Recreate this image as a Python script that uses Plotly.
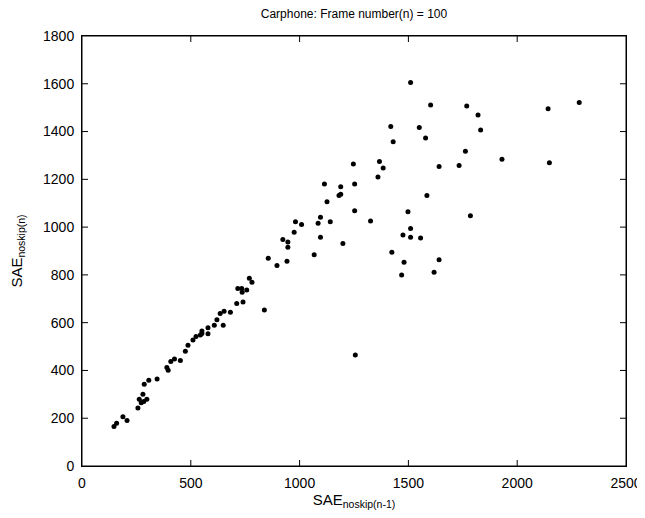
import plotly.graph_objects as go

x_vals = [147, 159, 188, 207, 257, 263, 280, 272, 284, 298, 286, 307, 345, 390, 396, 408, 425, 452,
          475, 487, 510, 524, 544, 551, 551, 579, 579, 608, 620, 635, 649, 653, 682, 711, 716, 734,
          736, 740, 757, 769, 781, 838, 856, 896,
          923, 946, 946, 942, 975, 981, 1009, 1067, 1085, 1096, 1096, 1114, 1126, 1141, 1181, 1189,
          1189, 1199, 1247, 1253, 1253, 1256, 1326, 1360, 1367, 1384, 1419, 1430, 1424, 1469, 1475,
          1480, 1498, 1510, 1510, 1550, 1556, 1579, 1585, 1618, 1641, 1641,
          1510, 1602, 1768, 1820, 1832, 1762, 1733, 1930, 2142, 2285, 2148, 1785]
y_vals = [165, 179, 206, 190, 243, 279, 300, 265, 270, 279, 342, 359, 364, 412, 401, 437, 448, 442,
          480, 505, 527, 542, 548, 565, 555, 579, 554, 589, 612, 638, 589, 648, 644, 680, 743, 743,
          727, 686, 737, 786, 769, 653, 870, 839,
          948, 938, 916, 857, 979, 1022, 1011, 884, 1016, 1041, 958, 1180, 1106, 1022, 1132, 1138,
          1169, 931, 1264, 1180, 1069, 465, 1026, 1210, 1275, 1247, 1421, 1357, 895, 800, 967,
          853, 1064, 994, 958, 1417, 954, 1373, 1132, 811, 1254, 863,
          1605, 1511, 1507, 1469, 1406, 1318, 1258, 1284, 1495, 1522, 1269, 1048]

title_text = "Carphone: Frame number(n) = 100"
x_title = "SAE<sub>noskip(n-1)</sub>"
y_title = "SAE<sub>noskip(n)</sub>"
x_ticks = [0, 500, 1000, 1500, 2000, 2500]
y_ticks = [0, 200, 400, 600, 800, 1000, 1200, 1400, 1600, 1800]

FONT = "Liberation Sans, Arial, sans-serif"
TICKLEN = 6

fig = go.Figure()
fig.add_trace(go.Scatter(
    x=x_vals, y=y_vals, mode="markers",
    marker=dict(color="black", size=5, line=dict(width=0)),
    showlegend=False, cliponaxis=False,
))

axis_common = dict(
    showgrid=False, zeroline=False, showline=True, linecolor="#000000", linewidth=1,
    mirror=True, ticks="", tickfont=dict(family=FONT, size=14, color="black"),
    ticklabelstandoff=4,
)

# box around plot area
shapes = [dict(type="rect", xref="paper", yref="paper", x0=0, x1=1, y0=0, y1=1,
               line=dict(color="black", width=1), fillcolor="rgba(0,0,0,0)", layer="above")]
# inward ticks on all four sides
for t in x_ticks[1:-1]:
    for anchor, sign in ((0, 1), (1, -1)):
        shapes.append(dict(type="line", xref="x", yref="paper", ysizemode="pixel", yanchor=anchor,
                           x0=t, x1=t, y0=0, y1=sign * TICKLEN,
                           line=dict(color="black", width=1), layer="above"))
for t in y_ticks[1:-1]:
    for anchor, sign in ((0, 1), (1, -1)):
        shapes.append(dict(type="line", xref="paper", yref="y", xsizemode="pixel", xanchor=anchor,
                           x0=0, x1=sign * TICKLEN, y0=t, y1=t,
                           line=dict(color="black", width=1), layer="above"))

fig.update_layout(
    width=637, height=502,
    template="none",
    paper_bgcolor="white", plot_bgcolor="white",
    margin=dict(l=74, r=19, t=28, b=44, pad=0),
    title=dict(text=title_text, x=0.5, xanchor="center", xref="paper",
               y=1, yref="paper", yanchor="bottom", pad=dict(b=18),
               font=dict(family=FONT, size=12, color="black")),
    font=dict(family=FONT, color="black"),
    shapes=shapes,
)
fig.update_xaxes(range=[0, 2500], tickvals=x_ticks, ticktext=[str(t) for t in x_ticks],
                 title=dict(text=x_title, font=dict(family=FONT, size=15, color="black"), standoff=4),
                 **axis_common)
fig.update_yaxes(range=[0, 1800], tickvals=y_ticks, ticktext=[str(t) for t in y_ticks],
                 title=dict(text=y_title, font=dict(family=FONT, size=15, color="black"), standoff=22),
                 **axis_common)

fig.write_html("out.html")
